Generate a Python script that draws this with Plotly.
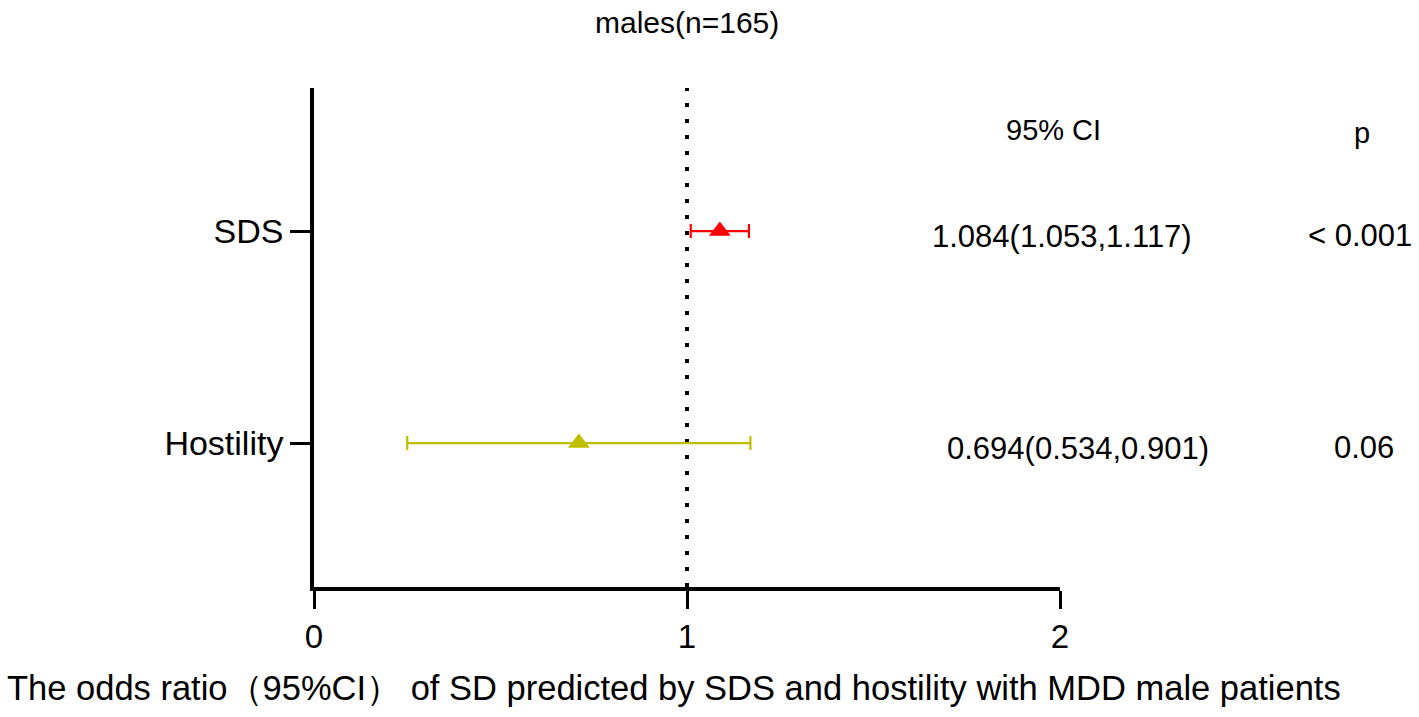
import plotly.graph_objects as go

# ---- data ----
categories = ["SDS", "Hostility"]
odds_ratio = [1.088, 0.710]          # drawn marker positions
ci_low = [1.010, 0.250]              # drawn left caps
ci_high = [1.166, 1.170]             # drawn right caps
ci_labels = ["1.084(1.053,1.117)", "0.694(0.534,0.901)"]
p_labels = ["< 0.001", "0.06"]
colors = ["#FF0000", "#BFBF00"]
x_ticks = [0, 1, 2]
ref_value = 1

FONT = "Arial, Liberation Sans, sans-serif"

W, H = 1419, 717
PL, PR, PT, PB = 314, W - 1060, 88, H - 587   # plot area in figure px


def px(xs):   # screen x -> paper x
    return (xs - 314) / 746


def py(ys):   # screen y -> paper y
    return (587 - ys) / 499


fig = go.Figure()
for cat, orv, lo, hi, col in zip(categories, odds_ratio, ci_low, ci_high, colors):
    fig.add_trace(go.Scatter(
        x=[orv], y=[cat], mode="markers",
        marker=dict(symbol="triangle-up", size=19, color=col, line=dict(width=0)),
        error_x=dict(type="data", symmetric=False,
                     array=[hi - orv], arrayminus=[orv - lo],
                     color=col, thickness=2.2, width=7),
        showlegend=False, cliponaxis=False,
    ))

# reference line at OR = 1
fig.add_shape(type="line", xref="x", yref="paper",
              x0=ref_value, x1=ref_value, y0=0, y1=1,
              line=dict(color="black", width=4, dash="4px,12px"), layer="below")

# column headers
fig.add_annotation(text="95% CI", xref="paper", yref="paper",
                   x=px(1053), y=py(130), xanchor="center", yanchor="middle",
                   showarrow=False, font=dict(size=29, color="black", family=FONT))
fig.add_annotation(text="p", xref="paper", yref="paper",
                   x=px(1362), y=py(133), xanchor="center", yanchor="middle",
                   showarrow=False, font=dict(size=29, color="black", family=FONT))

ci_x = [1062, 1078]
p_x = [1360, 1364]
for cat, cil, pl, cx, pxx in zip(categories, ci_labels, p_labels, ci_x, p_x):
    fig.add_annotation(text=cil, xref="paper", yref="y",
                       x=px(cx), y=cat, yshift=-5, xanchor="center", yanchor="middle",
                       showarrow=False, font=dict(size=31, color="black", family=FONT))
    fig.add_annotation(text=pl, xref="paper", yref="y",
                       x=px(pxx), y=cat, yshift=-4, xanchor="center", yanchor="middle",
                       showarrow=False, font=dict(size=31, color="black", family=FONT))

# x axis caption
fig.add_annotation(text="The odds ratio（95%CI） of SD predicted by SDS and hostility with MDD male patients",
                   xref="paper", yref="paper",
                   x=px(674), y=py(688), xanchor="center", yanchor="middle",
                   showarrow=False, font=dict(size=34.5, color="black", family=FONT))

# title
fig.add_annotation(text="males(n=165)", xref="paper", yref="paper",
                   x=px(687), y=py(22), xanchor="center", yanchor="middle",
                   showarrow=False, font=dict(size=30, color="black", family=FONT))

fig.update_layout(
    width=W, height=H, autosize=False,
    margin=dict(l=PL, r=PR, t=PT, b=PB, pad=0),
    paper_bgcolor="white", plot_bgcolor="white",
    font=dict(family=FONT, size=30, color="black"),
    xaxis=dict(range=[0, 2], tickvals=x_ticks, ticktext=[str(t) for t in x_ticks],
               showgrid=False, zeroline=False, showline=True, linecolor="black",
               linewidth=3.5, ticks="outside", ticklen=18, tickwidth=3,
               tickcolor="black", tickfont=dict(size=33, family=FONT)),
    yaxis=dict(type="category", categoryorder="array",
               categoryarray=list(reversed(categories)),
               range=[-0.679, 1.675], showgrid=False, zeroline=False,
               showline=True, linecolor="black", linewidth=3.5,
               ticks="outside", ticklen=20, tickwidth=3, tickcolor="black",
               tickfont=dict(size=34, family=FONT)),
)

fig.write_html("out.html",
               config={"displayModeBar": False},
               post_script="document.body.style.margin='0';document.body.style.overflow='hidden';")
